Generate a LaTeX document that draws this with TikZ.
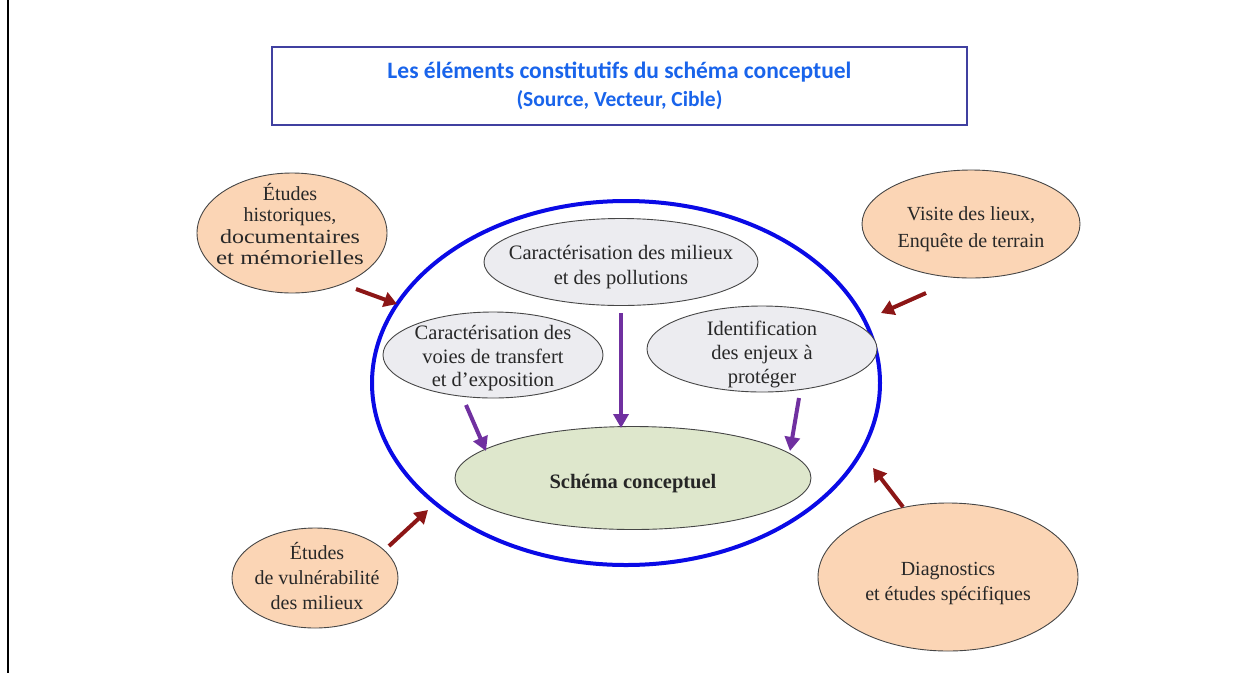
\documentclass[tikz,border=0pt]{standalone}
\usepackage{fontspec}
\setmainfont{Liberation Serif}
\newfontfamily\titlefont{Carlito}
\usetikzlibrary{shapes.geometric,arrows.meta}
\definecolor{titleborder}{RGB}{64,64,160}
\definecolor{titleblue}{RGB}{25,100,235}
\definecolor{bigblue}{RGB}{10,10,230}
\definecolor{orangefill}{RGB}{251,213,181}
\definecolor{grayfill}{RGB}{236,236,240}
\definecolor{greenfill}{RGB}{222,231,204}
\definecolor{edgegray}{RGB}{70,70,70}
\definecolor{textgray}{RGB}{40,40,40}
\definecolor{arrowred}{RGB}{140,22,22}
\definecolor{arrowpurple}{RGB}{112,48,160}
\begin{document}
\begin{tikzpicture}[x=1pt,y=-1pt,
  titlebox/.style={draw=titleborder, line width=2.5pt, minimum width=695pt, minimum height=78pt, inner sep=0pt, align=center, text=titleblue, font=\titlefont\bfseries\fontsize{23.5}{28}\selectfont},
  ell/.style={ellipse, inner sep=0pt, draw=edgegray, line width=0.9pt},
  orangeell/.style={ell, fill=orangefill},
  grayell/.style={ell, fill=grayfill},
  txt/.style={align=center, inner sep=0pt, text=textgray, font=\fontsize{20.5}{25}\selectfont},
  redarrow/.style={draw=arrowred, line width=4pt, -{Triangle[length=13pt,width=15pt]}},
  purplearrow/.style={draw=arrowpurple, line width=4pt, -{Triangle[length=14pt,width=15pt]}}
]
\useasboundingbox (0,0) rectangle (1245,673);
\fill[white] (0,0) rectangle (1245,673);
\draw[line width=2pt, black] (8,0) -- (8,673);

% title
\node[titlebox] (title) at (619.5,86) {Les éléments constitutifs du schéma conceptuel\\{\fontsize{21.5}{28}\selectfont (Source, Vecteur, Cible)}};

% big blue ellipse
\node[ellipse, inner sep=0pt, draw=bigblue, line width=4pt, minimum width=508pt, minimum height=364pt] (big) at (626,383) {};

% inner ellipses
\node[grayell, minimum width=274pt, minimum height=87pt] (milieux) at (621,262) {};
\node[txt] (milieux-t) at (621,267) {Caractérisation des milieux\\et des pollutions};

\node[grayell, minimum width=220pt, minimum height=86pt] (voies) at (493,355) {};
\node[txt, font=\fontsize{20.5}{23.5}\selectfont] (voies-t) at (493,358.5) {Caractérisation des\\voies de transfert\\et d’exposition};

\node[grayell, minimum width=230pt, minimum height=86pt] (enjeux) at (762,349) {};
\node[txt, font=\fontsize{20.5}{24}\selectfont] (enjeux-t) at (762,354) {Identification\\des enjeux à\\protéger};

\node[ell, fill=greenfill, minimum width=356pt, minimum height=103pt] (schema) at (633,478) {};
\node[txt, font=\bfseries\fontsize{20.5}{24}\selectfont, text=black!85] (schema-t) at (633,484) {Schéma conceptuel};

% orange ellipses
\node[orangeell, minimum width=190pt, minimum height=120pt] (hist) at (292,233) {};
\node[txt, font=\fontsize{20}{21.5}\selectfont] (hist-t) at (290,224) {Études\\historiques,\\\scalebox{1.2}[1]{documentaires}\\\scalebox{1.25}[1]{et mémorielles}};

\node[orangeell, minimum width=218pt, minimum height=108pt] (visite) at (971,224) {};
\node[txt, font=\fontsize{20}{27}\selectfont] (visite-t) at (971,229) {Visite des lieux,\\Enquête de terrain};

\node[orangeell, minimum width=166pt, minimum height=100pt] (vuln) at (315,578) {};
\node[txt, font=\fontsize{20}{25}\selectfont] (vuln-t) at (317,576) {Études\\de vulnérabilité\\des milieux};

\node[orangeell, minimum width=260pt, minimum height=148pt] (diag) at (948,577) {};
\node[txt, font=\fontsize{20}{25}\selectfont] (diag-t) at (948,583) {Diagnostics\\et études spécifiques};

% red arrows
\coordinate (a1s) at (356,289); \coordinate (a1e) at (397,304);
\coordinate (a2s) at (926,293); \coordinate (a2e) at (881,313);
\coordinate (a3s) at (389,546); \coordinate (a3e) at (428,510);
\coordinate (a4s) at (903,507); \coordinate (a4e) at (873,468);
\draw[redarrow] (a1s) -- (a1e);
\draw[redarrow] (a2s) -- (a2e);
\draw[redarrow] (a3s) -- (a3e);
\draw[redarrow] (a4s) -- (a4e);

% purple arrows
\coordinate (p1s) at (621,313); \coordinate (p1e) at (621,428);
\coordinate (p2s) at (466,405); \coordinate (p2e) at (486,451);
\coordinate (p3s) at (799,398); \coordinate (p3e) at (790,451);
\draw[purplearrow] (p1s) -- (p1e);
\draw[purplearrow] (p2s) -- (p2e);
\draw[purplearrow] (p3s) -- (p3e);
\end{tikzpicture}
\end{document}
